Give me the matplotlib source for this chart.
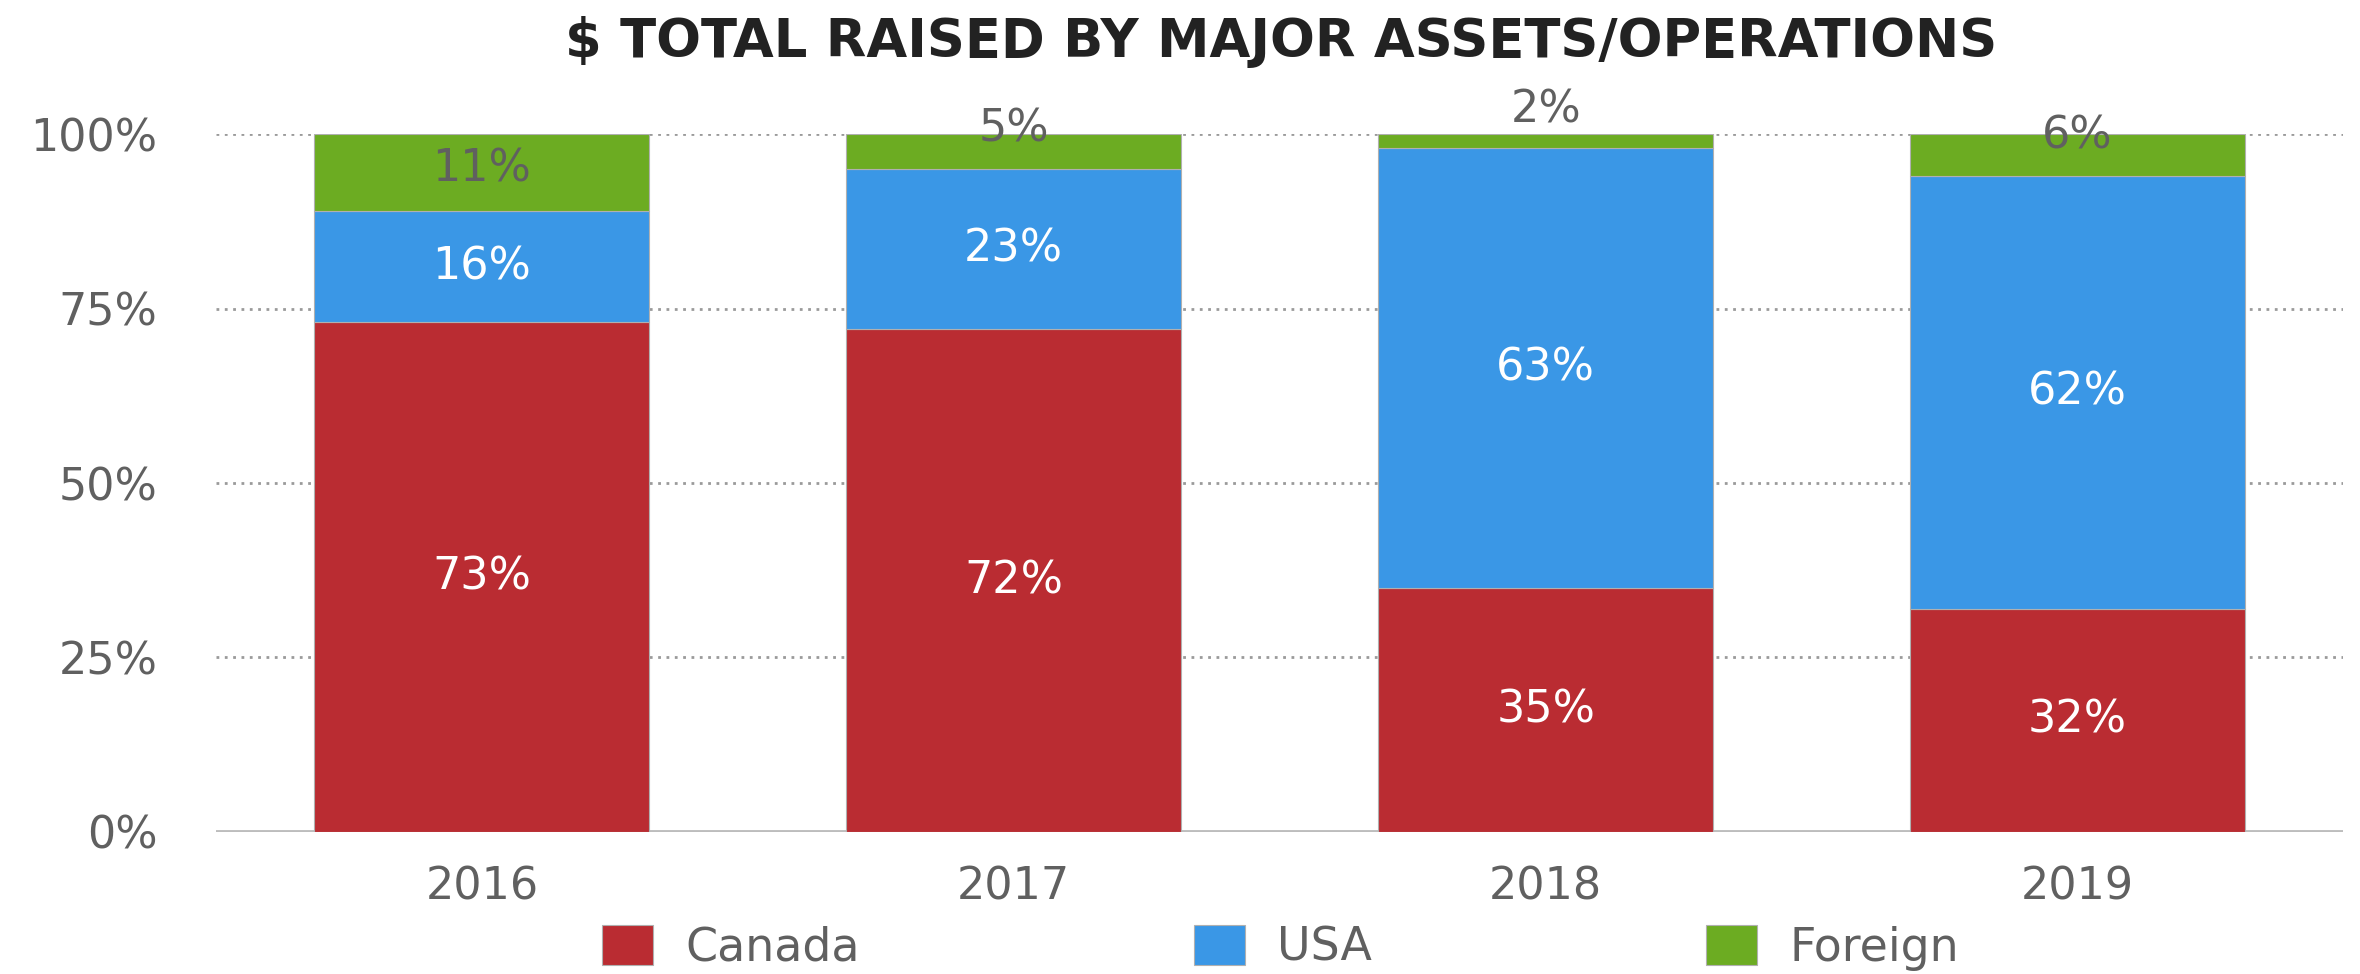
import matplotlib.pyplot as plt
import numpy as np
from matplotlib.patches import Patch

years = ['2016', '2017', '2018', '2019']
canada = [73, 72, 35, 32]
usa = [16, 23, 63, 62]
foreign = [11, 5, 2, 6]

series_names = ['Canada', 'USA', 'Foreign']
colors = ['#BA2C32', '#3A97E6', '#6CAC22']
txt_gray = '#606060'

plt.rcParams['font.family'] = ['DejaVu Sans']

fig = plt.figure(figsize=(23.6, 9.74), dpi=100)
ax = fig.add_axes([0.0915, 0.1458, 0.9015, 0.7166])

x = np.arange(len(years))
width = 0.63
bottom = np.zeros(len(years))
for vals, col, name in zip([canada, usa, foreign], colors, series_names):
    vals = np.array(vals, dtype=float)
    ax.bar(x, vals, width, bottom=bottom, color=col, edgecolor='#b0b0b0',
           linewidth=0.8, zorder=2, label=name)
    for xi, b, v in zip(x, bottom, vals):
        if name == 'Foreign':
            # small segments: label sits a bit higher, as in the original
            y = b + v / 2 + max(0, (12 - v) * 0.45)
            c = txt_gray
        else:
            y = b + v / 2
            c = 'white'
        ax.text(xi, y, f'{int(v)}%', ha='center', va='center',
                fontsize=32, color=c, zorder=3)
    bottom += vals

ax.set_xlim(-0.5, 3.5)
ax.set_ylim(0, 100)
ax.set_yticks([0, 25, 50, 75, 100])
ax.set_yticklabels(['0%', '25%', '50%', '75%', '100%'])
ax.set_xticks(x)
ax.set_xticklabels(years)
ax.tick_params(axis='both', length=0, labelsize=32, colors=txt_gray)
ax.tick_params(axis='y', pad=42)
ax.tick_params(axis='x', pad=24)

for gy in [25, 50, 75, 100]:
    ax.axhline(gy, color='#9a9a9a', linestyle=(0, (1, 2)), linewidth=2, zorder=1)
ax.axhline(0, color='#bdbdbd', linewidth=3.5, zorder=1)

for s in ax.spines.values():
    s.set_visible(False)

fig.text(0.543, 0.957, '$ TOTAL RAISED BY MAJOR ASSETS/OPERATIONS',
         ha='center', va='center', fontsize=38, fontweight='bold', color='#222222')

handles = [Patch(facecolor=c, edgecolor='#b0b0b0', linewidth=0.8) for c in colors]
fig.legend(handles, series_names, loc='center', bbox_to_anchor=(0.5426, 0.027),
           ncol=3, frameon=False, fontsize=33, labelcolor=txt_gray,
           handlelength=1.11, handleheight=0.98, handletextpad=0.7,
           columnspacing=7.3, borderaxespad=0)

fig.savefig('out.png', dpi=100, facecolor='white')
